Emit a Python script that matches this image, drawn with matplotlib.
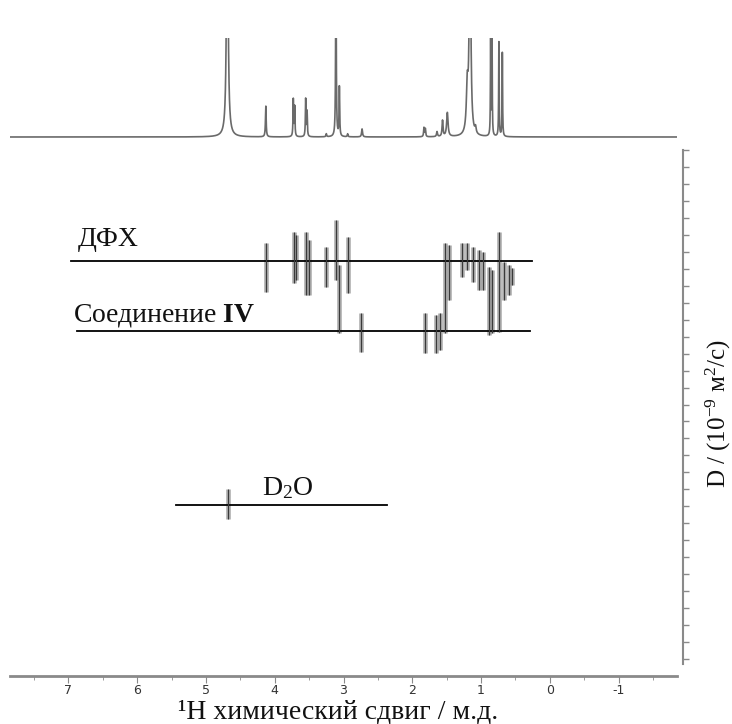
import numpy as np
import matplotlib
matplotlib.use("Agg")
import matplotlib.pyplot as plt

plt.rcParams["font.family"] = ["Liberation Serif", "DejaVu Serif"]
plt.rcParams["mathtext.fontset"] = "custom"
plt.rcParams["mathtext.rm"] = "Liberation Serif"
plt.rcParams["mathtext.it"] = "Liberation Serif:italic"
plt.rcParams["mathtext.bf"] = "Liberation Serif:bold"

# 1H spectrum peaks: position (ppm), height, half width (ppm)
peak_ppm = [4.69, 4.13, 3.73, 3.71, 3.55, 3.53, 3.25, 3.11, 3.06, 2.94, 2.73,
            1.83, 1.81, 1.64, 1.56, 1.49, 1.20, 1.16, 1.08, 0.86, 0.84, 0.74, 0.69]
peak_height = [300, 31, 37, 30, 38, 25, 3, 200, 50, 3, 8,
               9, 8, 5, 16, 24, 45, 250, 6, 96, 96, 95, 84]
peak_hwhm = [0.012, 0.006, 0.005, 0.005, 0.005, 0.005, 0.006, 0.005, 0.005, 0.006, 0.008,
             0.006, 0.006, 0.008, 0.008, 0.012, 0.015, 0.012, 0.010, 0.004, 0.004, 0.004, 0.004]

# DOSY cross peaks: position (ppm), D range (10^-9 m2/s)
cross_ppm = [4.13, 3.72, 3.69, 3.54, 3.50, 3.25, 3.11, 3.07, 2.94, 2.74,
             1.82, 1.65, 1.59, 1.52, 1.47, 1.27, 1.20, 1.12, 1.03, 0.97,
             0.88, 0.84, 0.74, 0.66, 0.60, 0.55, 4.68]
cross_dlo = [0.547, 0.482, 0.50, 0.482, 0.53, 0.57, 0.412, 0.676, 0.512, 0.959,
             0.959, 0.97, 0.959, 0.547, 0.559, 0.547, 0.547, 0.57, 0.588, 0.60,
             0.688, 0.706, 0.482, 0.659, 0.676, 0.694, 2.00]
cross_dhi = [0.835, 0.782, 0.765, 0.853, 0.853, 0.806, 0.765, 1.076, 0.841, 1.188,
             1.194, 1.194, 1.176, 1.076, 0.882, 0.747, 0.706, 0.776, 0.824, 0.824,
             1.088, 1.076, 1.071, 0.882, 0.853, 0.794, 2.176]

# species lines: D value, ppm start, ppm end, label and label anchor
line_d = [0.653, 1.065, 2.094]
line_start = [6.96, 6.88, 5.43]
line_end = [0.26, 0.29, 2.37]
labels = ["ДФХ", r"Соединение $\mathbf{IV}$", "D$_2$O"]
label_ppm = [6.86, 6.93, 4.18]
label_d = [0.568, 1.012, 2.033]

fig = plt.figure(figsize=(7.32, 7.24), dpi=100)
W, H = 732, 724

# top 1D spectrum
ax_top = fig.add_axes([10 / W, (H - 145) / H, 667 / W, 107 / H])
ppm = np.linspace(7.85, -1.85, 6000)
spec = np.zeros_like(ppm)
for p, h, w in zip(peak_ppm, peak_height, peak_hwhm):
    spec += h / (1 + ((ppm - p) / w) ** 2)
ax_top.plot(ppm, spec, color="#6a6a6a", lw=1.2)
ax_top.set_xlim(7.85, -1.85)
ax_top.set_ylim(-8, 99)
ax_top.axis("off")

# DOSY map
ax = fig.add_axes([10 / W, (H - 676) / H, 667 / W, 526 / H])
ax.set_xlim(7.85, -1.85)
ax.set_ylim(3.1, 0.0)

for d, x0, x1 in zip(line_d, line_start, line_end):
    ax.plot([x0, x1], [d, d], color="black", lw=1.3, zorder=3)

ax.vlines(cross_ppm, cross_dlo, cross_dhi, color="#9a9a9a", lw=3.4, alpha=0.75, zorder=2)
ax.vlines(cross_ppm, cross_dlo, cross_dhi, color="#3a3a3a", lw=0.9, zorder=4)

for txt, xp, yd in zip(labels, label_ppm, label_d):
    ax.text(xp, yd, txt, fontsize=20, color="#111111", va="baseline")

for s in ["top", "left"]:
    ax.spines[s].set_visible(False)
ax.spines["bottom"].set_color("#8a8a8a")
ax.spines["bottom"].set_linewidth(2)
ax.spines["right"].set_color("#8a8a8a")
ax.spines["right"].set_linewidth(1.5)
ax.spines["right"].set_position(("outward", 4))
ax.spines["right"].set_bounds(0.0, 3.03)

ax.set_xticks(np.arange(-1, 8, 1))
ax.set_xticks(np.arange(-1.5, 7.6, 0.5), minor=True)
ax.set_xticklabels([str(v) for v in range(-1, 8)],
                   family=["DejaVu Sans"], fontsize=9, color="#333333")
ax.tick_params(axis="x", which="major", direction="out", length=5, color="#8a8a8a", pad=0.5)
ax.tick_params(axis="x", which="minor", direction="out", length=3, color="#8a8a8a")

ax.yaxis.tick_right()
ax.set_yticks(np.arange(0.0, 3.04, 0.1))
ax.set_yticklabels([])
ax.tick_params(axis="y", direction="out", length=4, color="#8a8a8a", width=1)

fig.text(338 / W, (H - 718) / H, "¹H химический сдвиг / м.д.",
         fontsize=20, color="#111111", ha="center", va="baseline")
fig.text(718 / W, (H - 413) / H, "D / (10$^{-9}$ м$^{2}$/с)",
         fontsize=18, color="#111111", ha="center", va="center", rotation=90)

fig.savefig("out.png", dpi=100)
